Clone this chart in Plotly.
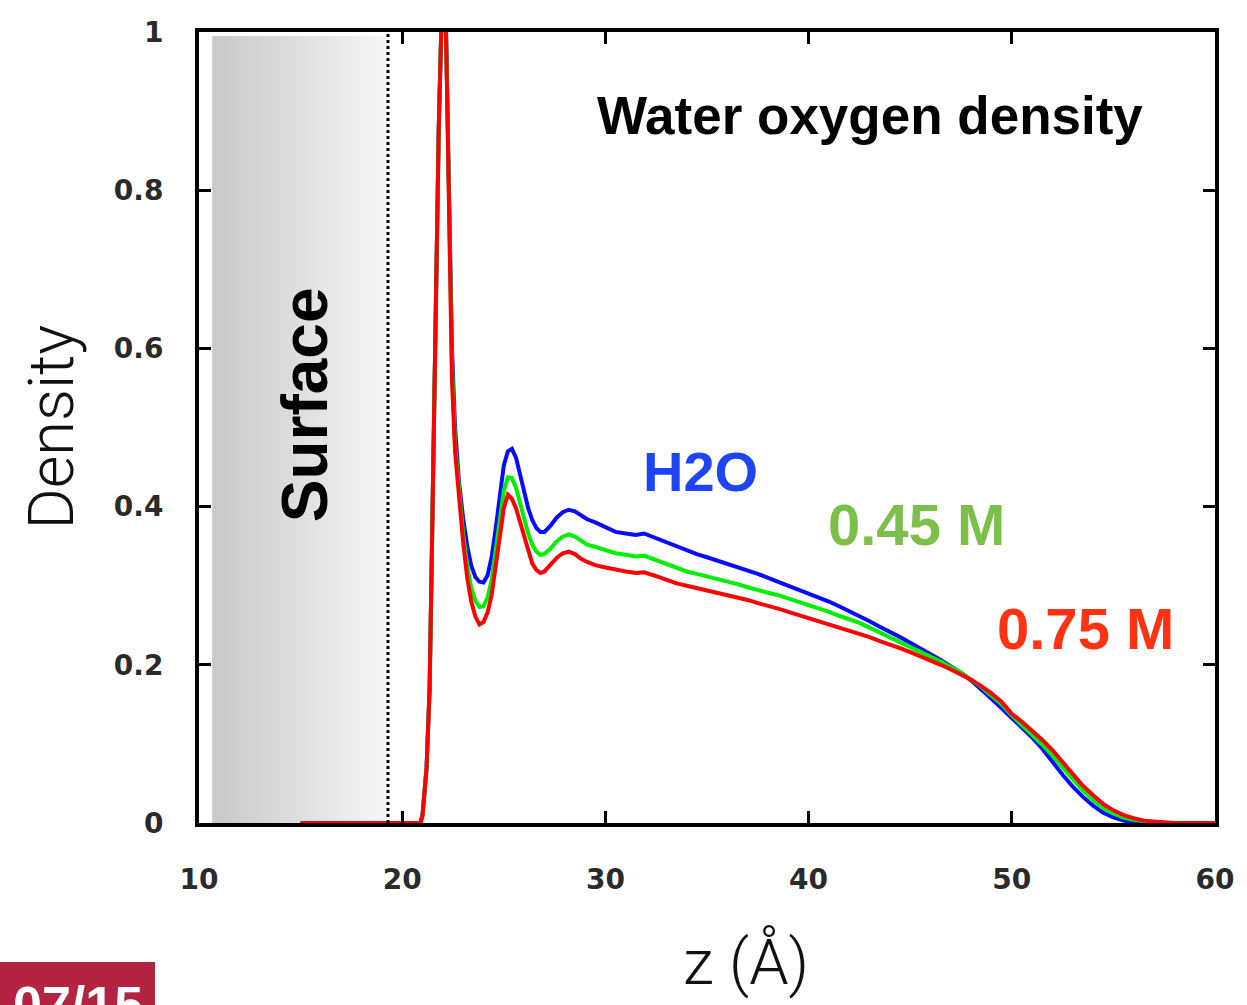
import plotly.graph_objects as go

# Distance from the surface, z (Angstrom)
z = [15.0, 20.0, 20.5, 20.9, 21.0, 21.2, 21.35, 21.5, 21.65, 21.8, 21.95, 22.05, 22.15,
     22.3, 22.45, 22.6, 22.8, 23.0, 23.2, 23.4, 23.6, 23.8, 24.0, 24.2, 24.4, 24.6, 24.8,
     25.0, 25.2, 25.4, 25.6, 25.8, 26.0, 26.2, 26.4, 26.6, 26.8, 27.0, 27.3, 27.6, 27.9,
     28.2, 28.5, 28.8, 29.1, 29.5, 30.0, 30.5, 31.0, 31.5, 31.9, 32.5, 33.0, 33.5, 34.0,
     34.5, 35.0, 35.5, 36.0, 36.5, 37.0, 37.5, 38.0, 38.5, 39.0, 39.5, 40.0, 40.5, 41.0,
     41.5, 42.0, 42.5, 43.0, 43.5, 44.0, 44.5, 45.0, 45.5, 46.0, 46.5, 47.0, 47.5, 48.0,
     48.5, 49.0, 49.5, 50.0, 50.5, 51.0, 51.5, 52.0, 52.5, 53.0, 53.5, 54.0, 54.5, 55.0,
     55.5, 56.0, 56.5, 57.0, 57.5, 58.0, 59.0, 60.0]

# Water oxygen density profiles
density_h2o = [0, 0, 0, 0, 0.01, 0.07, 0.17, 0.40, 0.66, 0.88, 1.03, 1.07, 1.01,
               0.80, 0.60, 0.50, 0.43, 0.385, 0.350, 0.325, 0.311, 0.305, 0.304, 0.313, 0.336, 0.372, 0.415,
               0.452, 0.470, 0.473, 0.462, 0.440, 0.418, 0.398, 0.383, 0.373, 0.368, 0.368, 0.376, 0.386, 0.393,
               0.396, 0.394, 0.389, 0.384, 0.380, 0.374, 0.368, 0.366, 0.364, 0.366, 0.360, 0.354, 0.349, 0.345,
               0.340, 0.336, 0.332, 0.328, 0.324, 0.319, 0.315, 0.310, 0.305, 0.301, 0.296, 0.291, 0.286, 0.280,
               0.274, 0.268, 0.261, 0.255, 0.248, 0.242, 0.235, 0.228, 0.221, 0.214, 0.206, 0.198, 0.190, 0.180,
               0.169, 0.157, 0.145, 0.133, 0.120, 0.108, 0.094, 0.077, 0.061, 0.046, 0.033, 0.022, 0.013, 0.007,
               0.003, 0.001, 0, 0, 0, 0, 0, 0]

density_045 = [0, 0, 0, 0, 0.01, 0.07, 0.17, 0.40, 0.66, 0.88, 1.03, 1.07, 1.01,
               0.79, 0.58, 0.48, 0.415, 0.365, 0.325, 0.297, 0.281, 0.273, 0.274, 0.285, 0.307, 0.342, 0.385,
               0.420, 0.437, 0.436, 0.424, 0.405, 0.384, 0.366, 0.352, 0.343, 0.339, 0.340, 0.347, 0.356, 0.362,
               0.365, 0.362, 0.357, 0.352, 0.349, 0.345, 0.341, 0.339, 0.337, 0.338, 0.332, 0.327, 0.322, 0.318,
               0.315, 0.312, 0.309, 0.305, 0.302, 0.298, 0.294, 0.291, 0.288, 0.284, 0.280, 0.276, 0.272, 0.267,
               0.262, 0.258, 0.253, 0.247, 0.241, 0.235, 0.229, 0.223, 0.217, 0.211, 0.204, 0.197, 0.190, 0.181,
               0.172, 0.161, 0.150, 0.136, 0.124, 0.112, 0.099, 0.085, 0.070, 0.055, 0.041, 0.029, 0.019, 0.012,
               0.007, 0.004, 0.002, 0.001, 0, 0, 0, 0]

density_075 = [0, 0, 0, 0, 0.01, 0.07, 0.17, 0.40, 0.66, 0.88, 1.03, 1.07, 1.01,
               0.78, 0.56, 0.47, 0.405, 0.355, 0.310, 0.280, 0.261, 0.251, 0.254, 0.266, 0.288, 0.322, 0.363,
               0.398, 0.415, 0.410, 0.398, 0.380, 0.360, 0.342, 0.328, 0.320, 0.316, 0.318, 0.326, 0.335, 0.341,
               0.343, 0.340, 0.334, 0.330, 0.326, 0.323, 0.320, 0.318, 0.316, 0.317, 0.312, 0.307, 0.303, 0.300,
               0.297, 0.295, 0.292, 0.289, 0.286, 0.282, 0.278, 0.275, 0.271, 0.267, 0.263, 0.260, 0.256, 0.252,
               0.248, 0.244, 0.240, 0.235, 0.230, 0.226, 0.221, 0.216, 0.211, 0.206, 0.200, 0.194, 0.188, 0.181,
               0.173, 0.164, 0.153, 0.138, 0.128, 0.117, 0.105, 0.092, 0.077, 0.062, 0.047, 0.035, 0.024, 0.016,
               0.010, 0.006, 0.003, 0.002, 0.001, 0, 0, 0]

x_ticks = [10, 20, 30, 40, 50, 60]
y_ticks = [0, 0.2, 0.4, 0.6, 0.8, 1]
y_tick_text = ["0", "0.2", "0.4", "0.6", "0.8", "1"]

# Solid region occupying z < 19.3
surface_z = [10.65, 19.3]
surface_top = 0.995

fig = go.Figure()

fig.add_trace(go.Scatter(
    x=[surface_z[0], surface_z[1], surface_z[1], surface_z[0], surface_z[0]],
    y=[0, 0, surface_top, surface_top, 0],
    mode="lines", line=dict(width=0), fill="toself",
    fillgradient=dict(type="horizontal",
                      colorscale=[[0, "#c8c8c8"], [1, "#f6f6f6"]]),
    hoverinfo="skip", showlegend=False,
))

for name, vals, col in [("H2O", density_h2o, "#0a0aff"),
                        ("0.45 M", density_045, "#00ee00"),
                        ("0.75 M", density_075, "#ff0000")]:
    fig.add_trace(go.Scatter(x=z, y=vals, mode="lines", name=name,
                             line=dict(color=col, width=4), showlegend=False))

# Dotted boundary of the surface
fig.add_shape(type="line", x0=surface_z[1], x1=surface_z[1], y0=0, y1=1,
              xref="x", yref="y", line=dict(color="black", width=3, dash="dot"))

label_font = "Liberation Sans"
fig.add_annotation(x=15.2, y=0.529, text="<b>Surface</b>", textangle=-90, showarrow=False,
                   xanchor="center", yanchor="middle",
                   font=dict(family=label_font, size=64, color="black"))
fig.add_annotation(x=43.0, y=0.895, text="<b>Water oxygen density</b>", showarrow=False,
                   xanchor="center", yanchor="middle",
                   font=dict(family=label_font, size=53, color="black"))
fig.add_annotation(x=34.7, y=0.444, text="<b>H2O</b>", showarrow=False,
                   xanchor="center", yanchor="middle",
                   font=dict(family=label_font, size=56, color="#1f44f5"))
fig.add_annotation(x=45.3, y=0.378, text="<b>0.45 M</b>", showarrow=False,
                   xanchor="center", yanchor="middle",
                   font=dict(family=label_font, size=58, color="#7cbf4b"))
fig.add_annotation(x=53.65, y=0.246, text="<b>0.75 M</b>", showarrow=False,
                   xanchor="center", yanchor="middle",
                   font=dict(family=label_font, size=58, color="#ff3311"))

# Axis titles
fig.add_annotation(xref="paper", yref="paper", x=-148 / 1016, y=0.5, text="Density",
                   textangle=-90, showarrow=False, xanchor="center", yanchor="middle",
                   font=dict(family="Roboto", size=63, color="#111", weight=300))
fig.add_annotation(xref="paper", yref="paper", x=(746 - 199) / 1016, y=(823 - 962) / 791,
                   text="z (Å)", showarrow=False, xanchor="center", yanchor="middle",
                   font=dict(family="Roboto", size=63, color="#111", weight=300))

# Slide number badge
fig.add_shape(type="rect", xref="paper", yref="paper",
              x0=-199 / 1016, x1=(155 - 199) / 1016,
              y0=(823 - 962) / 791, y1=(823 - 1020) / 791,
              line=dict(width=0), fillcolor="#b22442", layer="above")
fig.add_annotation(xref="paper", yref="paper", x=(78 - 199) / 1016, y=(823 - 974) / 791,
                   xanchor="center", yanchor="top", text="<b>07/15</b>", showarrow=False,
                   font=dict(family=label_font, size=52, color="white"))

tick_font = dict(family="DejaVu Sans", size=28, color="#2a2a2a", weight="bold")
fig.update_xaxes(range=[10, 60], tickvals=x_ticks, ticks="inside", ticklen=12, tickwidth=3,
                 tickcolor="black", showline=True, linewidth=4, linecolor="black",
                 mirror="ticks", showgrid=False, zeroline=False, tickfont=tick_font,
                 ticklabelstandoff=28)
fig.update_yaxes(range=[0, 1], tickvals=y_ticks, ticktext=y_tick_text, ticks="inside",
                 ticklen=12, tickwidth=3, tickcolor="black", showline=True, linewidth=4,
                 linecolor="black", mirror="ticks", showgrid=False, zeroline=False,
                 tickfont=tick_font, ticklabelstandoff=26)

fig.update_layout(width=1247, height=1005, margin=dict(l=199, r=32, t=32, b=182),
                  plot_bgcolor="white", paper_bgcolor="white", showlegend=False)

fig.write_html("out.html")
